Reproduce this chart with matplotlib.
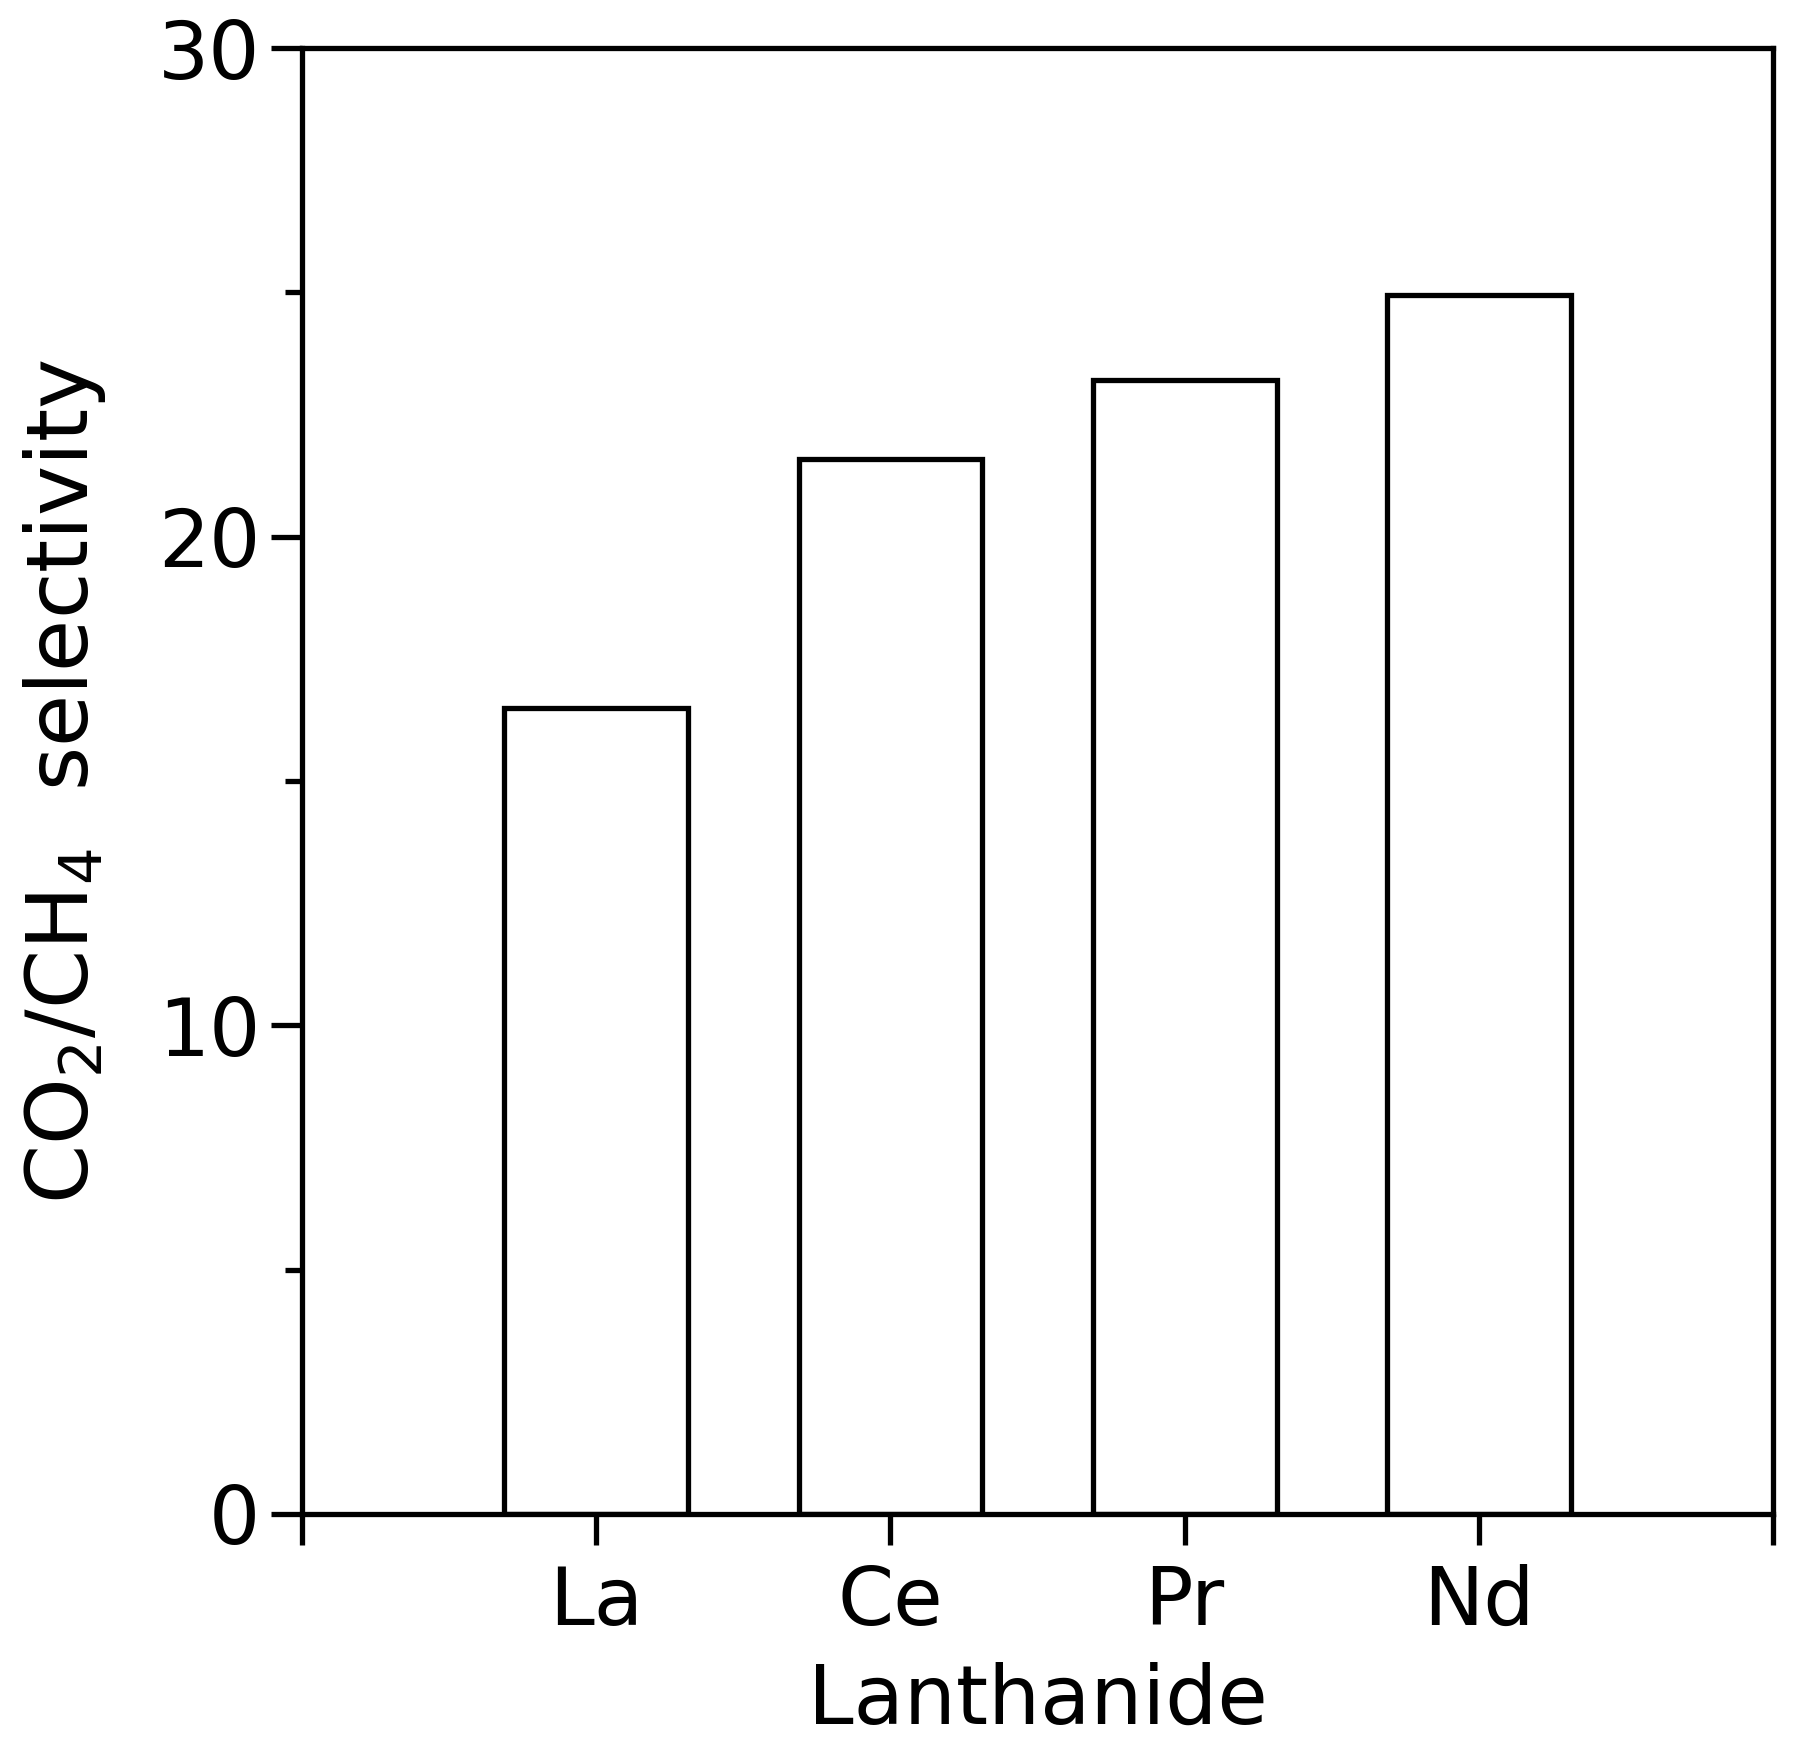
import numpy as np
import matplotlib.pyplot as plt
from matplotlib.ticker import MultipleLocator

# 数据
lanthanides = ['La', 'Ce', 'Pr', 'Nd']
selectivity = [16.5, 21.6, 23.2, 24.95]

plt.rcParams['font.family'] = ['DejaVu Sans']
plt.rcParams['mathtext.default'] = 'regular'

fig = plt.figure(figsize=(18.02, 17.61), dpi=100)
ax = fig.add_axes([0.1676, 0.1403, 0.984 - 0.1676, 0.9727 - 0.1403])

pos = np.arange(1, len(lanthanides) + 1)
ax.bar(pos, selectivity, width=0.625, color='white', edgecolor='black', linewidth=3.8)

ax.set_xlim(0, 5)
ax.set_ylim(0, 30)
ax.set_xticks(np.arange(0, 6))
ax.set_xticklabels([''] + lanthanides + [''])
ax.set_yticks([0, 10, 20, 30])
ax.yaxis.set_minor_locator(MultipleLocator(5))

for s in ax.spines.values():
    s.set_linewidth(3.8)

ax.tick_params(axis='both', which='major', direction='out', length=22, width=3.8,
               labelsize=58, pad=8)
ax.tick_params(axis='y', which='minor', direction='out', length=12, width=3.8)
ax.tick_params(axis='x', which='major', pad=14)

ax.set_xlabel('Lanthanide', fontsize=59, labelpad=14)
ax.set_ylabel(r'CO$_2$/CH$_4$  selectivity', fontsize=61, labelpad=36)

fig.savefig('out.png', dpi=100)
